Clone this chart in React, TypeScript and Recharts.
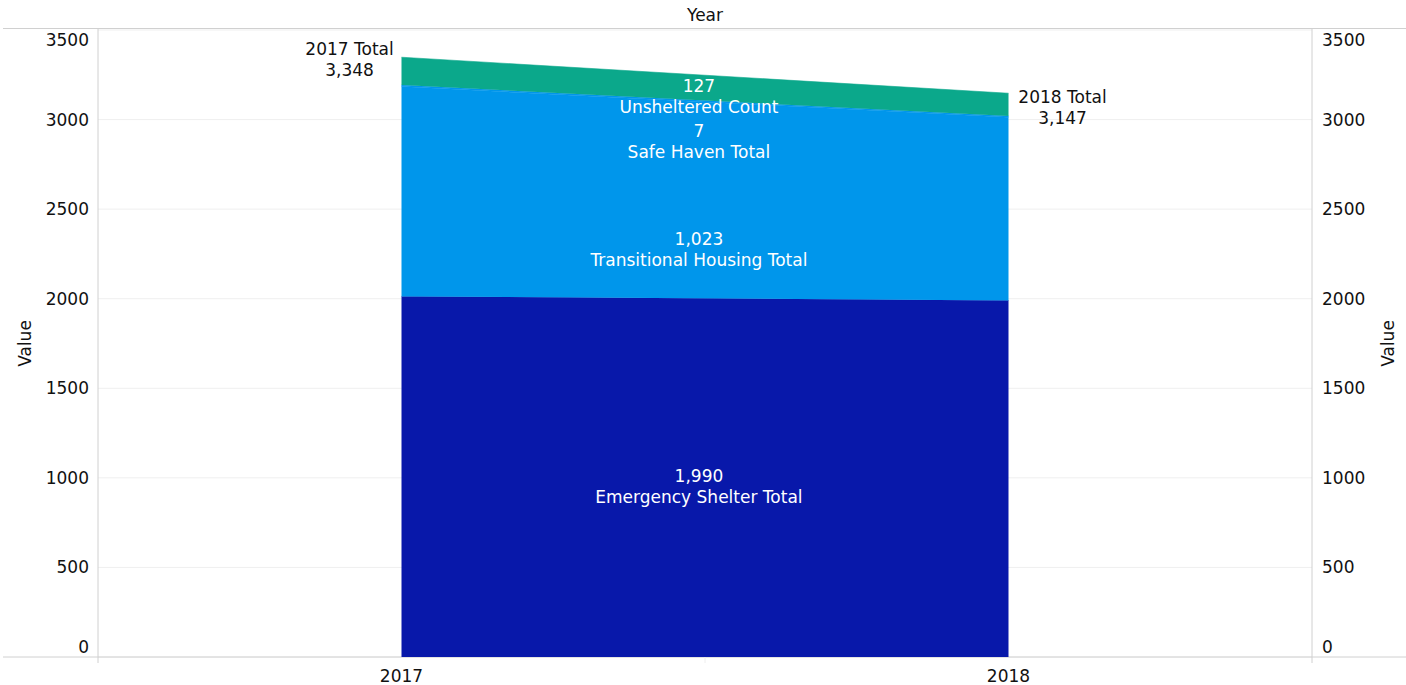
import { Area, ComposedChart, CartesianGrid, Customized, ReferenceDot, XAxis, YAxis } from "recharts";

const YEARS = [2017, 2018];
const EMERGENCY = [2013, 1990];
const TRANSITIONAL = [1171, 1023];
const SAFE_HAVEN = [9, 7];
const UNSHELTERED = [155, 127];
const TOTALS = [3348, 3147];

const SERIES = [
  { key: "emergency", name: "Emergency Shelter Total", color: "#0818aa" },
  { key: "transitional", name: "Transitional Housing Total", color: "#0096eb" },
  { key: "safeHaven", name: "Safe Haven Total", color: "#0096eb" },
  { key: "unsheltered", name: "Unsheltered Count", color: "#0ba88b" },
];
const LABEL_VALUES = ["1,990", "1,023", "7", "127"];
// y position (in data units) where each series label sits, near the middle of the x range
const LABEL_Y = [918, 2244, 2844, 3095];
const LABEL_X = 2017.49;

const Y_TICKS = [0, 500, 1000, 1500, 2000, 2500, 3000, 3500];

const data = YEARS.map((year, i) => ({
  year,
  emergency: EMERGENCY[i],
  transitional: TRANSITIONAL[i],
  safeHaven: SAFE_HAVEN[i],
  unsheltered: UNSHELTERED[i],
}));

const W = 1406;
const H = 685;
const LEFT = 98;
const RIGHT_W = 94;
const TOP = 30;
const BOTTOM = 28;
const PLOT_BOTTOM = H - BOTTOM;
const FONT = "DejaVu Sans, Verdana, sans-serif";
const TXT = "#111";
const LINE = "#d0d0d0";

// tableau keeps the end labels inside the plot
const tickBaseline = (y: number) => Math.min(Math.max(y + 6, TOP + 16), PLOT_BOTTOM - 4);

function LeftTick({ x, y, payload }: any) {
  return (
    <text x={x} y={tickBaseline(y)} textAnchor="end" fontSize={17} fill={TXT} fontFamily={FONT}>
      {payload.value}
    </text>
  );
}

function RightTick({ x, y, payload }: any) {
  return (
    <text x={x} y={tickBaseline(y)} textAnchor="start" fontSize={17} fill={TXT} fontFamily={FONT}>
      {payload.value}
    </text>
  );
}

function BottomTick({ x, y, payload }: any) {
  return (
    <text x={x} y={y + 25} textAnchor="middle" fontSize={17} fill={TXT} fontFamily={FONT}>
      {payload.value}
    </text>
  );
}

function Frame() {
  const midX = (LEFT + (W - RIGHT_W)) / 2;
  const midY = (TOP + PLOT_BOTTOM) / 2;
  return (
    <g fontFamily={FONT} fontSize={17} fill={TXT}>
      <line x1={3} x2={W} y1={28.5} y2={28.5} stroke={LINE} />
      <line x1={3} x2={W} y1={PLOT_BOTTOM} y2={PLOT_BOTTOM} stroke={LINE} />
      <line x1={LEFT} x2={LEFT} y1={28} y2={PLOT_BOTTOM + 6} stroke={LINE} />
      <line x1={W - RIGHT_W} x2={W - RIGHT_W} y1={28} y2={PLOT_BOTTOM + 6} stroke={LINE} />
      <line x1={midX} x2={midX} y1={PLOT_BOTTOM} y2={PLOT_BOTTOM + 6} stroke="#eee" />
      <text x={midX} y={21} textAnchor="middle">Year</text>
      <text x={25} y={midY} textAnchor="middle" dominantBaseline="central" transform={`rotate(-90 25 ${midY})`}>
        Value
      </text>
      <text x={1388} y={midY} textAnchor="middle" dominantBaseline="central" transform={`rotate(-90 1388 ${midY})`}>
        Value
      </text>
    </g>
  );
}

function seriesLabel(i: number) {
  return ({ cx, cy }: any) => (
    <g fontFamily={FONT} fontSize={17} fill="#fff">
      <text x={cx} y={cy - 10.5} textAnchor="middle">{LABEL_VALUES[i]}</text>
      <text x={cx} y={cy + 10.5} textAnchor="middle">{SERIES[i].name}</text>
    </g>
  );
}

function totalLabel(i: number) {
  const dx = i === 0 ? -52 : 54;
  const dy = i === 0 ? -2 : 10;
  return ({ cx, cy }: any) => (
    <g fontFamily={FONT} fontSize={17} fill={TXT}>
      <text x={cx + dx} y={cy + dy} textAnchor="middle">{`${YEARS[i]} Total`}</text>
      <text x={cx + dx} y={cy + dy + 21} textAnchor="middle">{TOTALS[i].toLocaleString("en-US")}</text>
    </g>
  );
}

export default function App() {
  return (
    <div style={{ position: "absolute", left: 0, top: 0, width: W, height: H, background: "#fff" }}>
      <ComposedChart width={W} height={H} data={data} margin={{ top: TOP, right: 0, bottom: 0, left: 0 }}>
        <CartesianGrid horizontal vertical={false} stroke="#efefef" yAxisId="left" />
        <XAxis
          dataKey="year"
          type="number"
          domain={[2016.5, 2018.5]}
          ticks={YEARS}
          height={BOTTOM}
          tickSize={0}
          tickMargin={0}
          axisLine={false}
          tick={<BottomTick />}
        />
        <YAxis
          yAxisId="left"
          domain={[0, 3500]}
          ticks={Y_TICKS}
          interval={0}
          width={LEFT}
          tickSize={0}
          tickMargin={9}
          axisLine={false}
          tick={<LeftTick />}
        />
        <YAxis
          yAxisId="right"
          orientation="right"
          domain={[0, 3500]}
          allowDataOverflow
          ticks={Y_TICKS}
          interval={0}
          width={RIGHT_W}
          tickSize={0}
          tickMargin={10}
          axisLine={false}
          tick={<RightTick />}
        />
        {SERIES.map((s) => (
          <Area
            key={s.key}
            yAxisId="left"
            dataKey={s.key}
            name={s.name}
            stackId="1"
            type="linear"
            fill={s.color}
            fillOpacity={1}
            stroke={s.color}
            strokeWidth={0.6}
            dot={false}
            activeDot={false}
            isAnimationActive={false}
          />
        ))}
        {/* invisible copy on the right axis so it gets its ticks */}
        <Area
          yAxisId="right"
          dataKey="emergency"
          type="linear"
          fill="none"
          stroke="none"
          dot={false}
          activeDot={false}
          legendType="none"
          isAnimationActive={false}
        />
        {SERIES.map((s, i) => (
          <ReferenceDot key={`lbl-${s.key}`} yAxisId="left" x={LABEL_X} y={LABEL_Y[i]} r={0} shape={seriesLabel(i)} />
        ))}
        {YEARS.map((yr, i) => (
          <ReferenceDot key={`tot-${yr}`} yAxisId="left" x={yr} y={TOTALS[i]} r={0} shape={totalLabel(i)} />
        ))}
        <Customized component={Frame} />
      </ComposedChart>
    </div>
  );
}
